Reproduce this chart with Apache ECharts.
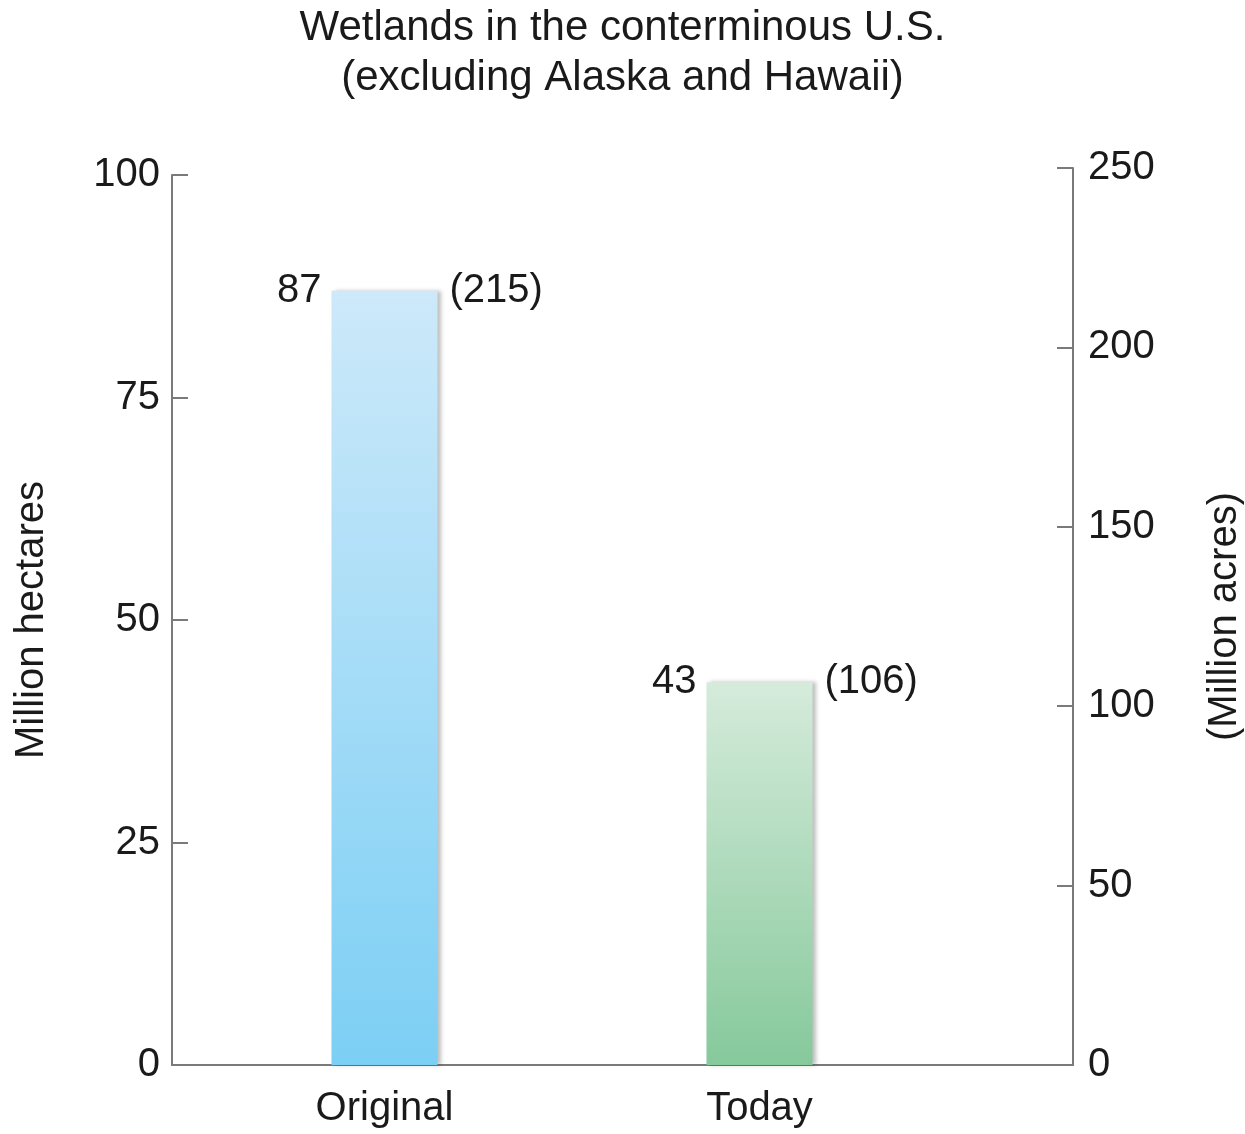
<!DOCTYPE html>
<html>
<head>
<meta charset="utf-8">
<script src="https://cdn.jsdelivr.net/npm/echarts@6/dist/echarts.min.js"></script>
<style>
  html, body { margin: 0; padding: 0; background: #fff; }
  #chart { width: 1245px; height: 1134px; }
</style>
</head>
<body>
<div id="chart"></div>
<script>
const categories = ['Original', 'Today']
const hectares = [87, 43]
const acres = [215, 106]
const hectareTicks = [0, 100, 25]
const acreTicks = [0, 250, 50]

const font = 'Liberation Sans, Arial, Helvetica, sans-serif'
const axisColor = '#7a7a7a'
const textColor = '#1a1a1a'

const colors = [
  ['#cde9fa', '#7ccff4'],
  ['#d5ebdb', '#86c99b']
]

const chart = echarts.init(document.getElementById('chart'))

const option = {
  backgroundColor: '#fff',
  title: {
    text: 'Wetlands in the conterminous U.S.\n(excluding Alaska and Hawaii)',
    left: 'center',
    top: -2,
    textStyle: {
      fontFamily: font,
      fontSize: 42,
      fontWeight: 'normal',
      lineHeight: 50,
      color: textColor
    }
  },
  grid: [
    { left: 172, right: 172, top: 175, bottom: 69, outerBoundsMode: 'none' },
    { left: 172, right: 172, top: 168, bottom: 69, outerBoundsMode: 'none' },
    { left: 197, right: 298, top: 175, bottom: 69, outerBoundsMode: 'none' }
  ],
  xAxis: [
    {
      gridIndex: 0,
      type: 'value',
      min: 0,
      max: 1,
      axisLine: { show: true, onZero: false, lineStyle: { color: axisColor, width: 2 } },
      axisTick: { show: false },
      axisLabel: { show: false },
      splitLine: { show: false }
    },
    {
      gridIndex: 1,
      type: 'value',
      min: 0,
      max: 1,
      show: false
    },
    {
      gridIndex: 2,
      type: 'category',
      data: categories,
      axisLine: { show: false },
      axisTick: { show: false },
      axisLabel: {
        margin: 24,
        fontFamily: font,
        fontSize: 40,
        color: textColor
      }
    }
  ],
  yAxis: [
    {
      gridIndex: 0,
      type: 'value',
      position: 'left',
      min: hectareTicks[0],
      max: hectareTicks[1],
      interval: hectareTicks[2],
      name: 'Million hectares',
      nameLocation: 'middle',
      nameGap: 120,
      nameTextStyle: { fontFamily: font, fontSize: 40, color: textColor },
      axisLine: { show: true, onZero: false, lineStyle: { color: axisColor, width: 2 } },
      axisTick: { show: true, inside: true, length: 16, lineStyle: { color: axisColor, width: 2 } },
      axisLabel: { margin: 12, fontFamily: font, fontSize: 40, color: textColor },
      splitLine: { show: false }
    },
    {
      gridIndex: 1,
      type: 'value',
      position: 'right',
      min: acreTicks[0],
      max: acreTicks[1],
      interval: acreTicks[2],
      name: '(Million acres)',
      nameLocation: 'middle',
      nameGap: 132,
      nameRotate: 90,
      nameTextStyle: { fontFamily: font, fontSize: 40, color: textColor },
      axisLine: { show: true, onZero: false, lineStyle: { color: axisColor, width: 2 } },
      axisTick: { show: true, inside: true, length: 16, lineStyle: { color: axisColor, width: 2 } },
      axisLabel: { margin: 15, fontFamily: font, fontSize: 40, color: textColor },
      splitLine: { show: false }
    },
    {
      gridIndex: 2,
      type: 'value',
      min: hectareTicks[0],
      max: hectareTicks[1],
      show: false
    }
  ],
  series: [
    {
      type: 'bar',
      xAxisIndex: 2,
      yAxisIndex: 2,
      barWidth: 106,
      data: hectares.map((v, i) => ({
        value: v,
        itemStyle: {
          color: new echarts.graphic.LinearGradient(0, 0, 0, 1, [
            { offset: 0, color: colors[i][0] },
            { offset: 1, color: colors[i][1] }
          ]),
          shadowColor: 'rgba(0,0,0,0.25)',
          shadowBlur: 4,
          shadowOffsetX: 3
        }
      })),
      label: {
        show: true,
        position: [-10, 0],
        align: 'right',
        verticalAlign: 'middle',
        fontFamily: font,
        fontSize: 40,
        color: textColor,
        formatter: (p) => String(p.value)
      }
    },
    {
      type: 'bar',
      xAxisIndex: 2,
      yAxisIndex: 2,
      barWidth: 106,
      barGap: '-100%',
      silent: true,
      itemStyle: { color: 'rgba(0,0,0,0)' },
      data: hectares,
      label: {
        show: true,
        position: [118, 0],
        align: 'left',
        verticalAlign: 'middle',
        fontFamily: font,
        fontSize: 40,
        color: textColor,
        formatter: (p) => '(' + acres[p.dataIndex] + ')'
      }
    }
  ]
}

chart.setOption(option)
</script>
</body>
</html>
